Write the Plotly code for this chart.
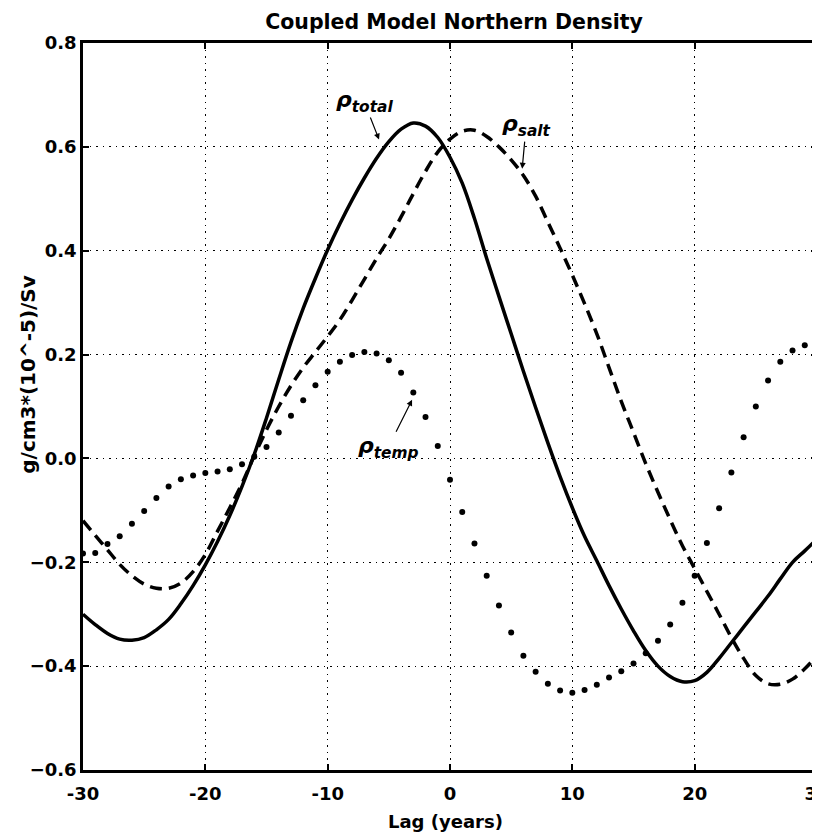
import plotly.graph_objects as go

lag = list(range(-30, 31))

rho_total = [-0.300, -0.320, -0.337, -0.348, -0.350, -0.345, -0.330, -0.310, -0.280, -0.245,
             -0.205, -0.160, -0.110, -0.054, 0.008, 0.078, 0.152, 0.224, 0.289, 0.347,
             0.402, 0.452, 0.498, 0.540, 0.578, 0.610, 0.634, 0.646, 0.640, 0.618,
             0.580, 0.530, 0.462, 0.385, 0.312, 0.240, 0.168, 0.098, 0.030, -0.035,
             -0.095, -0.150, -0.197, -0.245, -0.290, -0.332, -0.370, -0.400, -0.420, -0.430,
             -0.428, -0.412, -0.385, -0.355, -0.325, -0.295, -0.265, -0.232, -0.200, -0.178,
             -0.155]

rho_salt = [-0.120, -0.148, -0.176, -0.204, -0.226, -0.242, -0.250, -0.250, -0.240, -0.218,
            -0.185, -0.140, -0.095, -0.048, 0.005, 0.055, 0.100, 0.140, 0.175, 0.205,
            0.235, 0.267, 0.305, 0.345, 0.385, 0.423, 0.465, 0.510, 0.553, 0.590,
            0.615, 0.630, 0.632, 0.620, 0.600, 0.575, 0.545, 0.505, 0.455, 0.405,
            0.353, 0.298, 0.240, 0.175, 0.110, 0.050, -0.010, -0.065, -0.118, -0.168,
            -0.212, -0.256, -0.300, -0.345, -0.385, -0.418, -0.434, -0.435, -0.425, -0.405,
            -0.380]

rho_temp = [-0.183, -0.182, -0.165, -0.150, -0.126, -0.101, -0.076, -0.054, -0.040, -0.033,
            -0.028, -0.025, -0.021, -0.011, 0.003, 0.022, 0.050, 0.082, 0.112, 0.141,
            0.167, 0.186, 0.199, 0.205, 0.202, 0.189, 0.165, 0.127, 0.080, 0.024,
            -0.041, -0.103, -0.164, -0.226, -0.283, -0.335, -0.380, -0.411, -0.434, -0.447,
            -0.451, -0.446, -0.436, -0.422, -0.410, -0.395, -0.375, -0.351, -0.320, -0.278,
            -0.226, -0.163, -0.096, -0.027, 0.041, 0.100, 0.150, 0.186, 0.208, 0.218,
            0.216]

x_ticks = [-30, -20, -10, 0, 10, 20, 30]
x_tick_labels = ["-30", "-20", "-10", "0", "10", "20", "30"]
y_ticks = [-0.6, -0.4, -0.2, 0.0, 0.2, 0.4, 0.6, 0.8]
y_tick_labels = ["\u22120.6", "\u22120.4", "\u22120.2", "0.0", "0.2", "0.4", "0.6", "0.8"]

FONT = "DejaVu Sans, Liberation Sans, Arial, sans-serif"

fig = go.Figure()
fig.add_trace(go.Scatter(x=lag, y=rho_total, mode="lines",
                         line=dict(color="black", width=3.5, shape="spline", smoothing=1.0),
                         showlegend=False))
fig.add_trace(go.Scatter(x=lag, y=rho_salt, mode="lines",
                         line=dict(color="black", width=3.5, shape="spline", smoothing=1.0, dash="12px,7px"),
                         showlegend=False))
fig.add_trace(go.Scatter(x=lag, y=rho_temp, mode="markers", marker=dict(color="black", size=6),
                         showlegend=False))

ann_font = dict(family=FONT, size=22, color="black")
arrow_kw = dict(showarrow=True, arrowhead=2, arrowsize=1, arrowwidth=1.2, arrowcolor="black", standoff=0)
fig.add_annotation(x=-5.8, y=0.614, text="<b><i>\u03c1<sub>total</sub></i></b>",
                   ax=-15, ay=-38, font=ann_font, **arrow_kw)
fig.add_annotation(x=5.9, y=0.558, text="<b><i>\u03c1<sub>salt</sub></i></b>",
                   ax=4, ay=-43, font=ann_font, **arrow_kw)
fig.add_annotation(x=-3.1, y=0.113, text="<b><i>\u03c1<sub>temp</sub></i></b>",
                   ax=-24, ay=48, font=ann_font, **arrow_kw)

# axis titles as paper-anchored annotations
fig.add_annotation(x=0.494, y=-0.0715, xref="paper", yref="paper", showarrow=False,
                   text="<b>Lag (years)</b>", xanchor="center", yanchor="middle",
                   font=dict(family=FONT, size=18, color="black"))
fig.add_annotation(x=-0.075, y=0.545, xref="paper", yref="paper", showarrow=False,
                   text="<b>g/cm3*(10^-5)/Sv</b>", textangle=-90, xanchor="center", yanchor="middle",
                   font=dict(family=FONT, size=20, color="black"))

fig.update_layout(
    width=820, height=835,
    margin=dict(l=75, r=11, t=35, b=73, autoexpand=False),
    paper_bgcolor="white", plot_bgcolor="white",
    title=dict(text="<b>Coupled Model Northern Density</b>", x=0.544, xanchor="center",
               y=0.9832, yanchor="middle", font=dict(family=FONT, size=20.5, color="black")),
    font=dict(family=FONT, color="black"),
)
grid_kw = dict(showgrid=True, gridcolor="black", griddash="1.5px,5px", gridwidth=1.4)
axis_kw = dict(showline=True, linecolor="black", linewidth=2.5, mirror="ticks",
               ticks="inside", ticklen=6, tickcolor="black", tickwidth=1.5,
               zeroline=False, automargin=False, ticklabeloverflow="allow",
               tickfont=dict(family=FONT, size=18, color="black"))
fig.update_xaxes(range=[-30, 30], tickvals=x_ticks, ticktext=[f"<b>{t}</b>" for t in x_tick_labels],
                 ticklabelstandoff=6, **grid_kw, **axis_kw)
fig.update_yaxes(range=[-0.6, 0.8], tickvals=y_ticks, ticktext=[f"<b>{t}</b>" for t in y_tick_labels],
                 ticklabelstandoff=0, **grid_kw, **axis_kw)

fig.write_html("out.html")
